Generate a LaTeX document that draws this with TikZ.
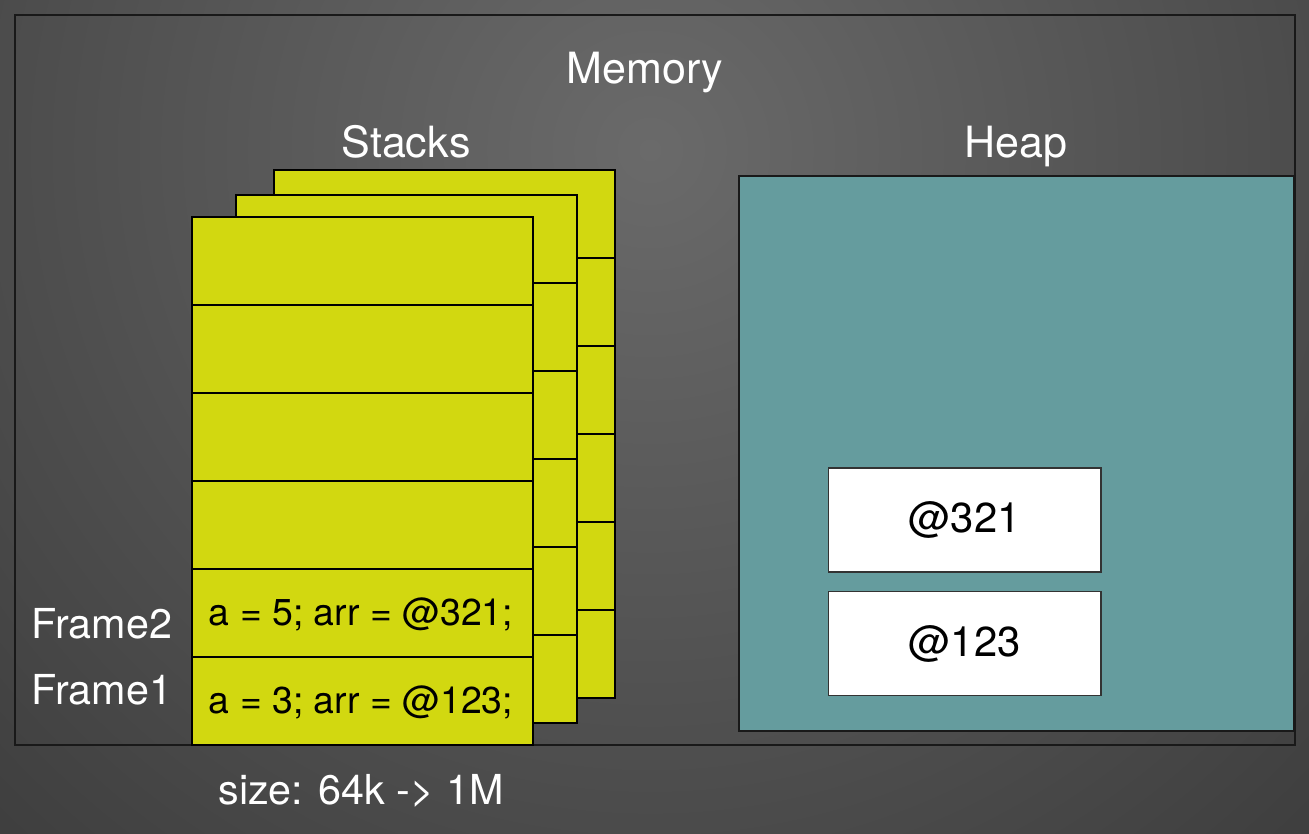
\documentclass[tikz,border=0pt]{standalone}
\usepackage{fontspec}
\setmainfont{TeX Gyre Heros}
\definecolor{stackyellow}{RGB}{210,216,16}
\definecolor{heapteal}{RGB}{101,156,158}
\definecolor{bglight}{RGB}{106,106,106}
\definecolor{bgdark}{RGB}{60,60,60}
\tikzset{
  framerow/.style={fill=stackyellow, draw=black, line width=0.6pt},
  titletext/.style={text=white, font=\fontsize{24.5}{29}\selectfont},
  sidetext/.style={text=white, font=\fontsize{23.5}{28}\selectfont},
  frametext/.style={text=black, font=\fontsize{21.3}{25}\selectfont},
  heapcell/.style={fill=white, draw=black!80, line width=0.6pt, inner sep=0pt,
    minimum width=5.46cm, minimum height=2.08cm, font=\fontsize{23.8}{28}\selectfont}
}
\begin{document}
\begin{tikzpicture}[x=0.02cm, y=-0.02cm]
    \useasboundingbox (0,0) rectangle (1309,833);

    % background
    \begin{scope}
        \clip (0,0) rectangle (1309,833);
        \shade[inner color=bglight, outer color=bgdark] (650,150) circle (1000);
    \end{scope}

    % memory frame
    \draw[black!90, line width=1.1pt] (15,15) rectangle (1295,745);
    \node[titletext] (memory) at (645,72) {Memory};

    % three stacks, back to front, six frames each
    \foreach \sx/\sy in {274/170, 236/195, 192/217} {
        \foreach \r in {0,...,5} {
            \draw[framerow] (\sx, \sy+\r*88) rectangle ++(341, 88);
        }
    }
    \node[titletext] (stacks) at (406,142) {Stacks};

    % frame contents and labels
    \node[frametext] (frametwo) at (361,614) {a = 5; arr = @321;};
    \node[frametext] (frameone) at (361,702) {a = 3; arr = @123;};
    \node[sidetext, anchor=west, inner sep=0pt] (labeltwo) at (31,624) {Frame2};
    \node[sidetext, anchor=west, inner sep=0pt] (labelone) at (31,690) {Frame1};
    \node[sidetext] (size) at (361,791) {size: 64k -> 1M};

    % heap
    \draw[fill=heapteal, draw=black!90, line width=0.8pt] (739,176) rectangle (1294,731);
    \node[titletext] (heap) at (1016,146) {Heap};
    \node[heapcell] (objb) at (964.5,520) {@321};
    \node[heapcell] (obja) at (964.5,643.5) {@123};
\end{tikzpicture}
\end{document}
